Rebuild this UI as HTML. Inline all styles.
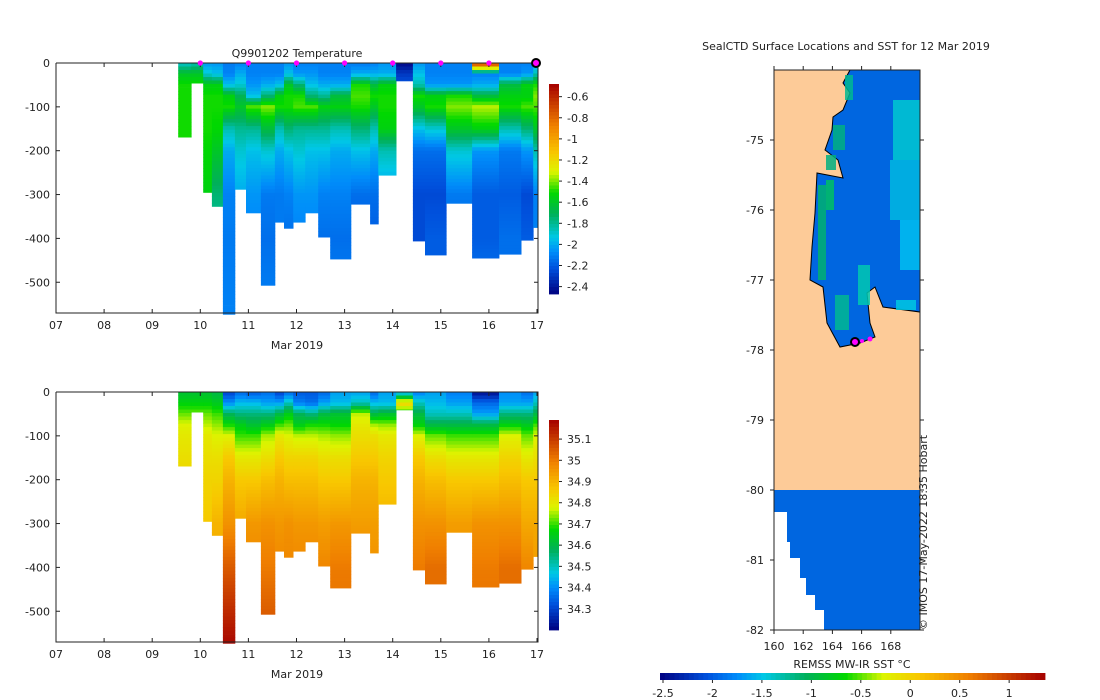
<!DOCTYPE html>
<html><head><meta charset="utf-8">
<style>
body{margin:0;background:#fff;}
svg{display:block;font-family:"DejaVu Sans","Liberation Sans",sans-serif;}
text{fill:#222;font-size:11px;}
</style></head>
<body>
<svg id="fig" width="1100" height="700" viewBox="0 0 1100 700" xmlns="http://www.w3.org/2000/svg">
<g id="top"></g>
<g id="bot"></g>
<g id="map"></g>
</svg>
<script>
// ---- data ----
const depthKnots = [0,25,50,75,100,150,200,300,400,575];
const colStart = [2.54,2.81,3.06,3.24,3.47,3.72,3.95,4.26,4.55,4.74,4.93,5.18,5.45,5.70,6.13,6.53,6.70,7.07,7.42,7.67,8.11,8.65,9.21,9.67,9.92];
const colEnd   = [2.81,3.06,3.24,3.47,3.72,3.95,4.26,4.55,4.74,4.93,5.18,5.45,5.70,6.13,6.53,6.70,7.07,7.42,7.67,8.11,8.65,9.21,9.67,9.92,10.02];
const colMaxDepth = [169,46,295,327,573,288,342,507,363,377,363,342,397,447,322,367,256,41,406,438,320,445,436,404,375];
const tempProfiles = [
 [-1.9,-1.6,-1.5,-1.5,-1.5,-1.5,-1.5,-1.5,-1.5,-1.5],
 [-1.85,-1.6,-1.5,-1.5,-1.5,-1.5,-1.5,-1.5,-1.5,-1.5],
 [-2.05,-1.9,-1.55,-1.5,-1.5,-1.5,-1.52,-1.55,-1.6,-1.6],
 [-2.05,-1.95,-1.55,-1.5,-1.5,-1.52,-1.6,-1.75,-1.85,-1.85],
 [-2.12,-2.1,-1.95,-1.55,-1.5,-1.85,-2.0,-2.1,-2.12,-2.1],
 [-2.1,-2.0,-1.9,-1.7,-1.6,-1.8,-1.9,-2.0,-2.0,-2.0],
 [-2.1,-2.1,-2.05,-1.95,-1.45,-1.8,-1.95,-2.05,-2.1,-2.1],
 [-2.1,-2.1,-2.0,-1.75,-1.4,-1.65,-1.9,-2.12,-2.15,-2.1],
 [-2.1,-2.1,-1.95,-1.55,-1.5,-1.85,-2.0,-2.12,-2.12,-2.12],
 [-2.05,-1.95,-1.6,-1.5,-1.5,-1.75,-1.95,-2.1,-2.15,-2.15],
 [-2.1,-2.05,-1.75,-1.5,-1.45,-1.8,-1.9,-2.05,-2.1,-2.1],
 [-2.1,-2.05,-1.95,-1.75,-1.45,-1.8,-1.95,-2.05,-2.1,-2.1],
 [-2.1,-2.1,-2.0,-1.8,-1.55,-1.8,-1.95,-2.1,-2.15,-2.15],
 [-2.1,-2.1,-2.0,-1.65,-1.55,-1.85,-2.0,-2.1,-2.15,-2.1],
 [-2.12,-2.0,-1.5,-1.45,-1.5,-1.75,-1.95,-2.15,-2.2,-2.2],
 [-2.1,-2.0,-1.65,-1.5,-1.6,-1.85,-2.0,-2.15,-2.2,-2.2],
 [-2.05,-2.0,-1.55,-1.5,-1.5,-1.55,-1.85,-2.05,-2.1,-2.1],
 [-2.45,-2.3,-2.22,-2.2,-2.2,-2.2,-2.2,-2.2,-2.2,-2.2],
 [-2.05,-1.95,-1.85,-1.5,-1.6,-1.95,-2.15,-2.25,-2.25,-2.25],
 [-2.1,-2.1,-2.05,-1.55,-1.5,-1.9,-2.15,-2.25,-2.2,-2.2],
 [-2.1,-2.1,-2.05,-1.5,-1.4,-1.6,-1.9,-2.12,-2.15,-2.15],
 [-0.55,-2.1,-2.0,-1.65,-1.35,-1.55,-2.05,-2.2,-2.2,-2.1],
 [-2.1,-2.1,-1.65,-1.55,-1.5,-1.85,-2.12,-2.2,-2.15,-2.15],
 [-2.1,-2.05,-1.55,-1.55,-1.45,-1.75,-2.05,-2.25,-2.2,-2.2],
 [-2.05,-1.85,-1.5,-1.4,-1.45,-1.6,-1.85,-2.1,-2.1,-2.1]
];
const salProfiles = [
 [34.62,34.66,34.72,34.78,34.8,34.82,34.84,34.86,34.9,34.9],
 [34.62,34.66,34.72,34.78,34.8,34.82,34.84,34.86,34.9,34.9],
 [34.62,34.66,34.72,34.76,34.8,34.82,34.84,34.86,34.9,34.9],
 [34.6,34.64,34.7,34.74,34.78,34.82,34.84,34.9,34.92,34.92],
 [34.3,34.4,34.58,34.68,34.78,34.86,34.9,34.96,35.05,35.18],
 [34.35,34.45,34.55,34.65,34.7,34.8,34.86,34.92,34.95,34.95],
 [34.33,34.45,34.55,34.62,34.7,34.8,34.86,34.95,34.98,34.98],
 [34.36,34.42,34.55,34.65,34.75,34.82,34.88,34.96,35.0,35.08],
 [34.3,34.42,34.6,34.7,34.8,34.86,34.9,34.95,34.98,34.98],
 [34.35,34.5,34.65,34.72,34.78,34.84,34.88,34.96,34.98,34.98],
 [34.33,34.38,34.58,34.65,34.76,34.84,34.88,34.95,34.98,34.98],
 [34.33,34.36,34.55,34.68,34.76,34.84,34.88,34.95,34.98,34.98],
 [34.35,34.42,34.6,34.68,34.75,34.82,34.86,34.94,34.98,34.98],
 [34.42,34.45,34.62,34.67,34.74,34.82,34.86,34.95,35.0,35.02],
 [34.42,34.5,34.76,34.8,34.82,34.86,34.9,34.94,34.98,34.98],
 [34.35,34.45,34.6,34.75,34.82,34.86,34.9,34.94,34.96,34.96],
 [34.42,34.45,34.62,34.74,34.8,34.84,34.86,34.9,34.92,34.92],
 [34.42,34.85,34.65,34.85,34.85,34.85,34.85,34.85,34.85,34.85],
 [34.38,34.5,34.6,34.66,34.78,34.86,34.9,34.96,35.0,35.0],
 [34.42,34.45,34.5,34.6,34.72,34.82,34.88,34.96,35.02,35.02],
 [34.38,34.42,34.5,34.6,34.7,34.8,34.86,34.94,34.96,34.96],
 [34.22,34.35,34.42,34.6,34.7,34.8,34.86,34.96,35.0,35.02],
 [34.4,34.42,34.55,34.66,34.78,34.84,34.88,34.96,35.02,35.02],
 [34.36,34.42,34.55,34.64,34.72,34.8,34.86,34.92,34.98,34.98],
 [34.42,34.5,34.6,34.7,34.78,34.82,34.86,34.92,34.94,34.94]
];
const dayLabels = ["07","08","09","10","11","12","13","14","15","16","17"];
const depthTicks = [0,-100,-200,-300,-400,-500];
const tempTicks = [-0.6,-0.8,-1,-1.2,-1.4,-1.6,-1.8,-2,-2.2,-2.4];
const salTicks = [35.1,35,34.9,34.8,34.7,34.6,34.5,34.4,34.3];
const markerDays = [3,4,5,6,7,8,9];
const sstTicks = [-2.5,-2,-1.5,-1,-0.5,0,0.5,1];
const latTicks = [-75,-76,-77,-78,-79,-80,-81,-82];
const lonTicks = [160,162,164,166,168];

// ---- colormap ----
const stops=[[0,[0,0,128]],[0.12,[0,80,220]],[0.2,[0,140,250]],[0.27,[0,200,230]],[0.38,[0,176,90]],[0.48,[0,216,0]],[0.58,[220,245,0]],[0.67,[248,200,0]],[0.8,[240,128,0]],[1,[165,0,0]]];
function cmap(t){t=Math.max(0,Math.min(1,t));for(let i=1;i<stops.length;i++){if(t<=stops[i][0]){const a=stops[i-1],b=stops[i];const f=(t-a[0])/(b[0]-a[0]);const c=a[1].map((v,k)=>Math.round(v+(b[1][k]-v)*f));return `rgb(${c})`;}}return 'rgb(165,0,0)';}
const NS='http://www.w3.org/2000/svg';
function el(tag,attrs,parent){const e=document.createElementNS(NS,tag);for(const k in attrs)e.setAttribute(k,attrs[k]);parent.appendChild(e);return e;}
function txt(s,x,y,anchor,parent,size){const t=el('text',{x:x,y:y,'text-anchor':anchor||'start'},parent);if(size)t.setAttribute('font-size',size);t.textContent=s;return t;}
function interp(p,d){for(let i=1;i<depthKnots.length;i++){if(d<=depthKnots[i]){const f=(d-depthKnots[i-1])/(depthKnots[i]-depthKnots[i-1]);return p[i-1]+(p[i]-p[i-1])*f;}}return p[p.length-1];}

function section(g,y0,profiles,vmin,vmax,cbTicks,cbTop,title){
  const X0=56,X1=538,Y1=y0+250;
  const xs=d=>X0+d*(X1-X0)/10.02;
  const ys=d=>y0+d*0.4385;
  for(let c=0;c<colStart.length;c++){
    const step=8;
    for(let d=0;d<colMaxDepth[c];d+=step){
      const v=interp(profiles[c],d+step/2);
      const r=el('rect',{x:xs(colStart[c]).toFixed(1),y:ys(d).toFixed(1),width:(xs(colEnd[c])-xs(colStart[c])+0.4).toFixed(1),height:(Math.min(step,colMaxDepth[c]-d)*0.4385+0.4).toFixed(1),fill:cmap((v-vmin)/(vmax-vmin))},g);
      
      
    }
  }
  const ax=el('path',{d:`M${X0} ${y0}V${Y1}H${X1}V${y0}H${X0}`,fill:'none',stroke:'#222','stroke-width':1},g);
  
  dayLabels.forEach((l,i)=>{const x=X0+i*48.1;el('line',{x1:x,x2:x,y1:Y1,y2:Y1-4,stroke:'#222'},g);el('line',{x1:x,x2:x,y1:y0,y2:y0+4,stroke:'#222'},g);const t=txt(l,x,Y1+16,'middle',g);});
  const xt=txt('Mar 2019',297,Y1+36,'middle',g);
  depthTicks.forEach(v=>{const y=ys(-v);el('line',{x1:X0,x2:X0+4,y1:y,y2:y,stroke:'#222'},g);el('line',{x1:X1,x2:X1-4,y1:y,y2:y,stroke:'#222'},g);const t=txt(String(v),X0-6,y+4,'end',g);});
  const cx=549,cw=10,ch=210;
  for(let i=0;i<60;i++){const r=el('rect',{x:cx,y:(cbTop+i*ch/60).toFixed(1),width:cw,height:(ch/60+0.4).toFixed(2),fill:cmap(1-(i+0.5)/60)},g);}
  cbTicks.forEach(v=>{const y=cbTop+(vmax-v)/(vmax-vmin)*ch;el('line',{x1:cx+cw,x2:cx+cw+3,y1:y,y2:y,stroke:'#222'},g);const t=txt(String(v),cx+cw+8,y+4,'start',g);});
  if(title){const t=txt(title,297,y0-6,'middle',g);
    markerDays.forEach(d=>{const m=el('circle',{cx:X0+d*48.1,cy:y0,r:2.6,fill:'#ff00ff'},g);});
    const m=el('circle',{cx:X0+10*48.1-1,cy:y0,r:4,fill:'#ff00ff',stroke:'#000','stroke-width':2},g);}
}
section(document.getElementById('top'),63,tempProfiles,-2.47,-0.48,tempTicks,84,'Q9901202  Temperature');
section(document.getElementById('bot'),392,salProfiles,34.2,35.19,salTicks,420,null);

// ---- map ----
const mg=document.getElementById('map');
const mx=lon=>774+(lon-160)*14.6, my=lat=>70+(-74-lat)*70;
el('rect',{x:774,y:70,width:146,height:420,fill:'#fdcb98'},mg);
const sea=el('path',{d:'M850 70L843 83L850 93L843 110L833 117L832 130L825 150L838 160L843 178L817 173L815 213L812 247L810 280L823 287L827 323L840 347L860 343L875 337L870 323L867 293L875 287L883 307L920 312V70Z',fill:'#0066e0',stroke:'#000','stroke-width':1},mg);

[[845,75,8,25,'#00b890'],[833,125,12,25,'#00b080'],[826,155,10,15,'#00b080'],[818,185,8,95,'#00b070'],[826,180,8,30,'#00c060'],[835,295,14,35,'#00b890'],[858,265,12,40,'#00c8b0'],[893,100,27,60,'#00c8d0'],[890,160,30,60,'#00b8e0'],[900,220,20,50,'#00c0f0'],[896,300,20,10,'#00c8e0']].forEach(p=>{const r=el('rect',{x:p[0],y:p[1],width:p[2],height:p[3],fill:p[4],opacity:0.85},mg);});
const ice=el('path',{d:'M774 490H920V630H824V610H815V595H806V578H800V558H790V542H787V512H774Z',fill:'#0066e0'},mg);
el('rect',{x:774,y:70,width:146,height:560,fill:'none',stroke:'#222'},mg);
[[855,342,4,'#ff00ff','#000',2],[862,341,2,'#ff00ff','none',0],[870,339,2.5,'#ff00ff','none',0]].forEach(p=>{const c=el('circle',{cx:p[0],cy:p[1],r:p[2],fill:p[3],stroke:p[4],'stroke-width':p[5]},mg);});
latTicks.forEach(v=>{const y=my(v);el('line',{x1:774,x2:770,y1:y,y2:y,stroke:'#222'},mg);el('line',{x1:920,x2:924,y1:y,y2:y,stroke:'#222'},mg);const t=txt(String(v),764,y+4,'end',mg);});
lonTicks.forEach(v=>{const x=mx(v);el('line',{x1:x,x2:x,y1:630,y2:634,stroke:'#222'},mg);el('line',{x1:x,x2:x,y1:70,y2:66,stroke:'#222'},mg);const t=txt(String(v),x,650,'middle',mg);});
const mt=txt('SealCTD Surface Locations and SST for 12 Mar 2019',846,50,'middle',mg);
const cr=txt('© IMOS 17-May-2022 18:35 Hobart',0,0,'start',mg,9);cr.setAttribute('transform','translate(927,630) rotate(-90)');
const st=txt('REMSS MW-IR SST °C',852,668,'middle',mg);
for(let i=0;i<80;i++){const r=el('rect',{x:(660+i*385/80).toFixed(1),y:673,width:(385/80+0.4).toFixed(2),height:7,fill:cmap((i+0.5)/80)},mg);}
sstTicks.forEach(v=>{const x=663+(v+2.5)*98.9;el('line',{x1:x,x2:x,y1:680,y2:683,stroke:'#222'},mg);const t=txt(String(v),x,697,'middle',mg);});
</script>
</body></html>
